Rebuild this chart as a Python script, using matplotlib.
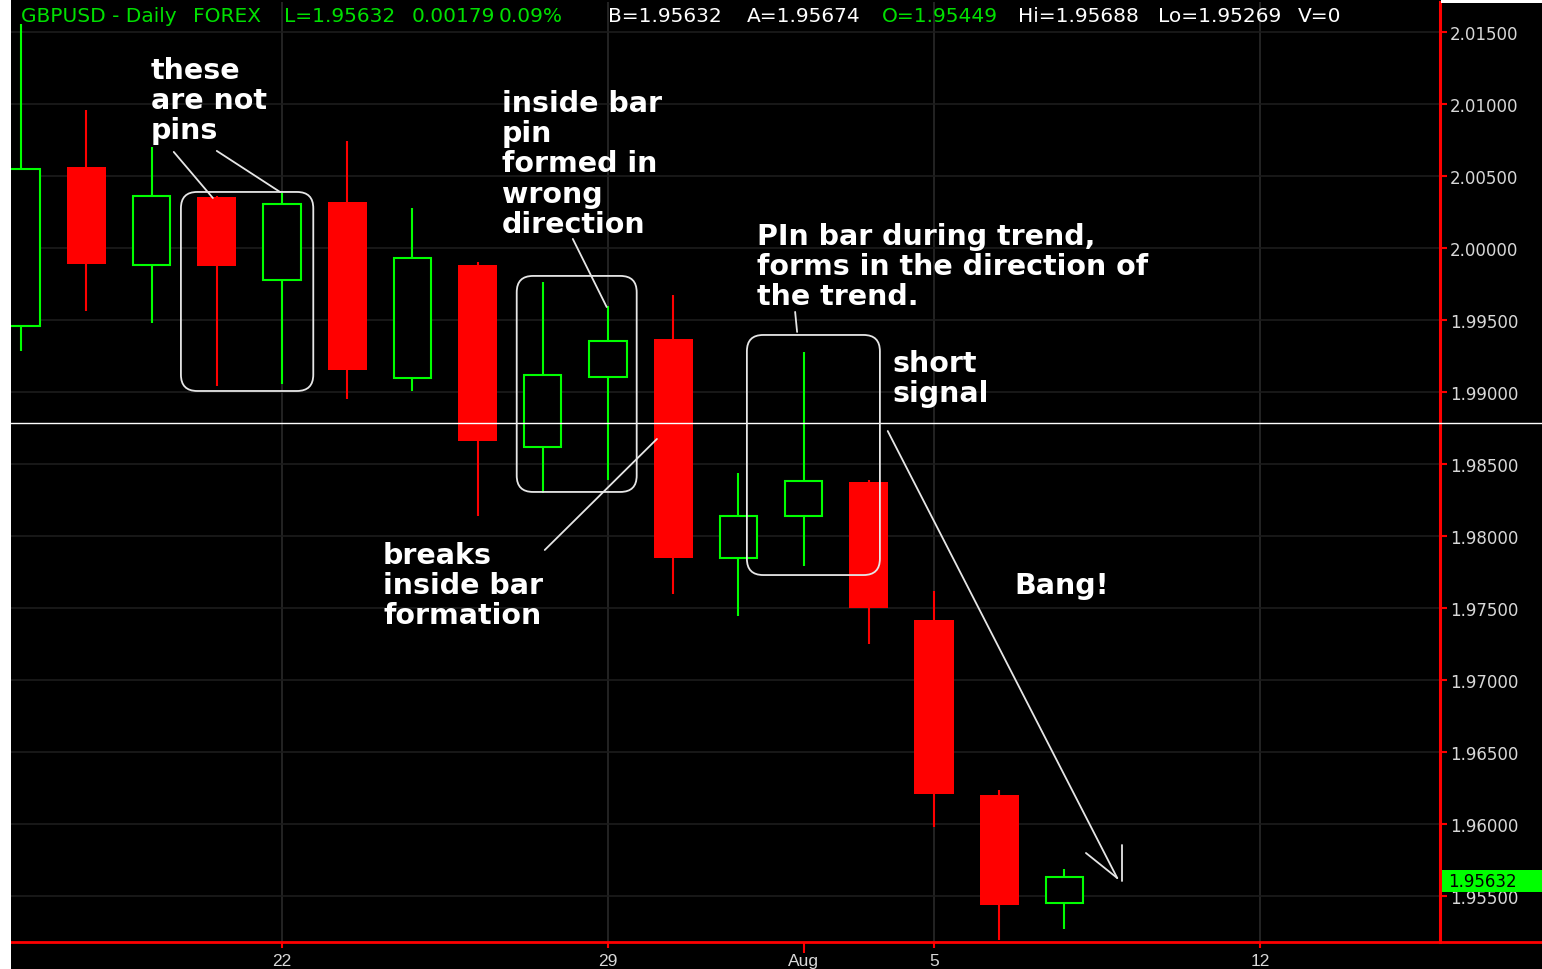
import matplotlib
matplotlib.use('Agg')
import matplotlib.pyplot as plt
from matplotlib.patches import Rectangle, FancyBboxPatch
from matplotlib.lines import Line2D
import matplotlib.transforms as mtransforms

# ---------------- data ----------------
opens  = [1.99458, 2.00563, 1.99882, 2.00354, 1.99778, 2.00319, 1.99097, 1.99882, 1.98618,
          1.99104, 1.99368, 1.97847, 1.98139, 1.98375, 1.97417, 1.96202, 1.95449]
highs  = [2.01556, 2.00958, 2.00701, 2.00361, 2.00382, 2.00743, 2.00278, 1.99903, 1.99764,
          1.99597, 1.99674, 1.98438, 1.99278, 1.98389, 1.97618, 1.96236, 1.95688]
lows   = [1.99285, 1.99563, 1.99479, 1.99042, 1.99056, 1.98951, 1.99007, 1.98139, 1.98299,
          1.98389, 1.97597, 1.97444, 1.97792, 1.97250, 1.95979, 1.95195, 1.95269]
closes = [2.00549, 1.99889, 2.00361, 1.99875, 2.00306, 1.99153, 1.99931, 1.98660, 1.99118,
          1.99354, 1.97847, 1.98139, 1.98382, 1.97500, 1.96208, 1.95438, 1.95632]

date_tick_pos = [4, 9, 12, 14, 19]
date_tick_labels = ['22', '29', 'Aug', '5', '12']
grid_x = [4, 9, 14, 19]
price_ticks = [1.955, 1.960, 1.965, 1.970, 1.975, 1.980, 1.985,
               1.990, 1.995, 2.000, 2.005, 2.010, 2.015]
last_price = 1.95632
crosshair_price = 1.98785

header_segments = [
    ("GBPUSD - Daily", 177, 'right', 'green'),
    ("FOREX", 193, 'left', 'green'),
    ("L=1.95632", 284, 'left', 'green'),
    ("0.00179", 412, 'left', 'green'),
    ("0.09%", 499, 'left', 'green'),
    ("B=1.95632", 608, 'left', 'white'),
    ("A=1.95674", 747, 'left', 'white'),
    ("O=1.95449", 882, 'left', 'green'),
    ("Hi=1.95688", 1018, 'left', 'white'),
    ("Lo=1.95269", 1158, 'left', 'white'),
    ("V=0", 1298, 'left', 'white'),
]

RED = '#FF0000'
GREEN = '#00FF00'
HDR_GREEN = '#00E000'
ANN = '#E6E6E6'

W, H = 1542, 970
fig = plt.figure(figsize=(W / 100, H / 100), dpi=100, facecolor='black')
ax = fig.add_axes([11 / W, 27 / H, 1429 / W, 940 / H], facecolor='black')
ax.set_xlim(-0.156, 21.76)
ax.set_ylim(1.95181, 2.01708)

# grid
for gx in grid_x:
    ax.axvline(gx, color='#262626', lw=1.3, zorder=0)
for p in price_ticks:
    ax.axhline(p, color='#1c1c1c', lw=1.2, zorder=0)

# candles
bw = 0.6
for i, (o, h, l, c) in enumerate(zip(opens, highs, lows, closes)):
    if c >= o:
        ax.vlines(i, l, o, color=GREEN, lw=1.5, zorder=2)
        ax.vlines(i, c, h, color=GREEN, lw=1.5, zorder=2)
        ax.add_patch(Rectangle((i - bw / 2 + 0.015, o), bw - 0.03, c - o,
                               facecolor='black', edgecolor=GREEN, lw=1.5, zorder=3))
    else:
        ax.vlines(i, l, h, color=RED, lw=1.5, zorder=2)
        ax.add_patch(Rectangle((i - bw / 2, c), bw, o - c,
                               facecolor=RED, edgecolor='none', zorder=3))

# crosshair
ax.axhline(crosshair_price, xmin=0, xmax=(W - 11) / 1429, color='white', lw=1.0,
           clip_on=False, zorder=4)

# spines
for s in ['top', 'left', 'bottom']:
    ax.spines[s].set_visible(False)
ax.spines['right'].set_color(RED)
ax.spines['right'].set_linewidth(2.2)
fig.add_artist(Line2D([11 / W, 1], [27 / H, 27 / H], transform=fig.transFigure,
                      color=RED, lw=2, zorder=4))

# y axis on the right
ax.yaxis.tick_right()
ax.set_yticks(price_ticks)
ax.set_yticklabels([f'{p:.5f}' for p in price_ticks])
ax.tick_params(axis='y', which='major', color=RED, length=5, width=1.5,
               labelcolor='#D8D8D8', labelsize=12, pad=2)

# x axis
ax.set_xticks(date_tick_pos)
ax.set_xticklabels(date_tick_labels)
ax.tick_params(axis='x', which='major', color=RED, length=4, width=1.5,
               labelcolor='#D8D8D8', labelsize=12.5, pad=4)
for lab in ax.get_xticklabels():
    lab.set_family(['Liberation Sans Narrow', 'Liberation Sans', 'DejaVu Sans'])
ax.xaxis.get_major_ticks()[2].tick1line.set_markersize(8)

# last price box (drawn over the tick labels)
blend = mtransforms.blended_transform_factory(ax.transAxes, ax.transData)
dy = 11 / 14400
fig.add_artist(Rectangle((1.0014, last_price - 0.00028 - dy), 0.075, 2 * dy,
                         transform=blend, facecolor=GREEN, edgecolor='none', zorder=5))
fig.add_artist(plt.Text(1.0055, last_price - 0.00028, f'{last_price:.5f}', transform=blend,
                        color='black', fontsize=12, va='center', ha='left', zorder=6))

# header
for txt, px, ha, col in header_segments:
    ax.text((px - 11) / 1429, 1 - 19 / 940, txt, transform=ax.transAxes,
            ha=ha, va='baseline', fontsize=14.5, color=HDR_GREEN if col == 'green' else 'white',
            clip_on=True, zorder=6)

# ---------------- annotations ----------------
tk = dict(color='white', fontsize=20.5, fontweight='bold', family='DejaVu Sans',
          va='top', ha='left', linespacing=1.10, zorder=6)
ax.text(1.99, 2.01333, "these\nare not\npins", **tk)
ax.text(7.37, 2.01104, "inside bar\npin\nformed in\nwrong\ndirection", **tk)
ax.text(11.29, 2.00181, "PIn bar during trend,\nforms in the direction of\nthe trend.", **tk)
ax.text(13.37, 1.99299, "short\nsignal", **tk)
ax.text(5.55, 1.97965, "breaks\ninside bar\nformation", **tk)
ax.text(15.24, 1.97757, "Bang!", **tk)

lk = dict(color=ANN, lw=1.3, zorder=5, solid_capstyle='round')
ax.plot([2.34, 2.94], [2.00667, 2.00347], **lk)
ax.plot([3.00, 3.97], [2.00674, 2.00389], **lk)
ax.plot([8.46, 8.98], [2.00063, 1.99590], **lk)
ax.plot([8.03, 9.75], [1.97903, 1.98674], **lk)
ax.plot([11.87, 11.90], [1.99556, 1.99417], **lk)
ax.plot([13.29, 16.81], [1.98729, 1.95625], **lk)
ax.plot([16.33, 16.81], [1.95799, 1.95625], **lk)
ax.plot([16.88, 16.88], [1.95854, 1.95604], **lk)

aspect = 65.2 / 14400
for (x0, x1, y0, y1) in [(2.45, 4.48, 1.99007, 2.00389),
                         (7.60, 9.44, 1.98306, 1.99806),
                         (11.13, 13.17, 1.97729, 1.99396)]:
    ax.add_patch(FancyBboxPatch((x0, y0), x1 - x0, y1 - y0,
                                boxstyle='round,pad=0,rounding_size=0.25',
                                mutation_aspect=aspect, facecolor='none',
                                edgecolor=ANN, lw=1.3, zorder=5))

# white frame strips
fig.add_artist(Rectangle((0, 0), 11 / W, 1, transform=fig.transFigure,
                         facecolor='white', edgecolor='none', zorder=10))
fig.add_artist(Rectangle((1441 / W, 1 - 4 / H), 1, 4 / H, transform=fig.transFigure,
                         facecolor='white', edgecolor='none', zorder=10))

fig.savefig('out.png', dpi=100, facecolor='black')
